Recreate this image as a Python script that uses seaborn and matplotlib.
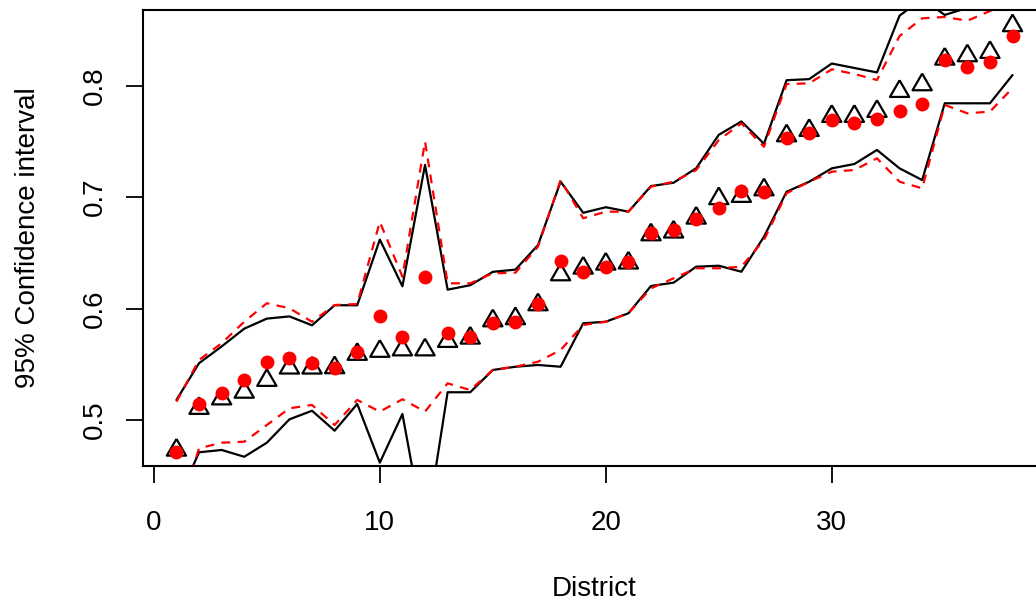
import numpy as np
import pandas as pd
import matplotlib
matplotlib.use("Agg")
import matplotlib.pyplot as plt
import seaborn as sns

# District index and the two point estimates
district = list(range(1, 39))
est_triangle = [0.473, 0.5105, 0.519, 0.525, 0.5356, 0.5467, 0.5467, 0.547, 0.559, 0.5617,
                0.563, 0.563, 0.5706, 0.5736, 0.5891, 0.591, 0.6035, 0.6304, 0.6364, 0.640,
                0.641, 0.6663, 0.6688, 0.6813, 0.6987, 0.7008, 0.7067, 0.7552, 0.760, 0.7726,
                0.7726, 0.7771, 0.795, 0.801, 0.824, 0.827, 0.830, 0.854]
est_dot = [0.4715, 0.514, 0.5245, 0.536, 0.5523, 0.5554, 0.5514, 0.5464, 0.5613, 0.5934,
           0.5748, 0.6286, 0.5778, 0.5742, 0.5873, 0.5883, 0.6041, 0.6427, 0.6331, 0.6376,
           0.6421, 0.6676, 0.6706, 0.6802, 0.690, 0.7058, 0.7044, 0.7528, 0.7573, 0.7693,
           0.7663, 0.7699, 0.7777, 0.7834, 0.8232, 0.8166, 0.8216, 0.845]

# 95% interval bounds (solid black and dashed red)
upper_black = [0.518, 0.551, 0.566, 0.582, 0.591, 0.593, 0.585, 0.603, 0.603, 0.662,
               0.620, 0.729, 0.617, 0.621, 0.633, 0.635, 0.657, 0.714, 0.686, 0.691,
               0.687, 0.710, 0.713, 0.726, 0.756, 0.768, 0.748, 0.805, 0.806, 0.820,
               0.816, 0.812, 0.863, 0.878, 0.8636, 0.870, 0.885, 0.895]
lower_black = [0.425, 0.471, 0.4731, 0.467, 0.4796, 0.5006, 0.5083, 0.4904, 0.5144, 0.4617,
               0.5054, 0.395, 0.5249, 0.5249, 0.5449, 0.5478, 0.5494, 0.5478, 0.5868, 0.5882,
               0.5958, 0.6203, 0.6233, 0.6376, 0.6385, 0.6331, 0.6645, 0.7049, 0.7139, 0.7259,
               0.7298, 0.7424, 0.7259, 0.7154, 0.7843, 0.7843, 0.7843, 0.8097]
upper_red = [0.5164, 0.5539, 0.5689, 0.5882, 0.6048, 0.6003, 0.5882, 0.6032, 0.6041, 0.678,
             0.6286, 0.750, 0.6227, 0.6227, 0.6317, 0.6322, 0.6556, 0.7154, 0.6811, 0.687,
             0.687, 0.7094, 0.7139, 0.7244, 0.7513, 0.7663, 0.7453, 0.8016, 0.8022, 0.8148,
             0.8106, 0.8052, 0.8447, 0.8606, 0.8618, 0.8584, 0.8671, 0.880]
lower_red = [0.411, 0.4746, 0.4796, 0.4805, 0.4955, 0.5105, 0.5135, 0.4955, 0.518, 0.5075,
             0.5186, 0.5075, 0.5329, 0.5269, 0.5449, 0.5478, 0.5523, 0.5628, 0.5853, 0.5882,
             0.5958, 0.6182, 0.6272, 0.6362, 0.6362, 0.6376, 0.6616, 0.7035, 0.7139, 0.7229,
             0.7244, 0.7349, 0.7139, 0.708, 0.7828, 0.7753, 0.7768, 0.798]

x_ticks = [0, 10, 20, 30]
y_ticks = [0.5, 0.6, 0.7, 0.8]

df = pd.DataFrame({
    "district": district,
    "tri": est_triangle,
    "dot": est_dot,
    "ub": upper_black,
    "lb": lower_black,
    "ur": upper_red,
    "lr": lower_red,
})

sns.set_theme(style="ticks")
plt.rcParams["font.family"] = ["Liberation Sans", "DejaVu Sans"]
plt.rcParams["axes.edgecolor"] = "black"
plt.rcParams["axes.linewidth"] = 1.5

FS = 20
fig = plt.figure(figsize=(10.36, 6.04), dpi=100)
ax = fig.add_axes([143 / 1036, 1 - 466 / 604, (1046 - 143) / 1036, (466 - 9.5) / 604])

# open triangle centred on its centroid
tri_marker = [(0.0, 1.0), (-0.866, -0.5), (0.866, -0.5), (0.0, 1.0)]

sns.scatterplot(data=df, x="district", y="tri", marker=tri_marker, s=16 ** 2,
                facecolor="none", edgecolor="black", linewidth=1.6, ax=ax, zorder=3)
sns.scatterplot(data=df, x="district", y="dot", marker="o", s=10 ** 2,
                color="#ff0000", linewidth=0, ax=ax, zorder=4)

for col in ["ub", "lb"]:
    sns.lineplot(data=df, x="district", y=col, color="black", linewidth=1.6,
                 ax=ax, zorder=2)
for col in ["ur", "lr"]:
    sns.lineplot(data=df, x="district", y=col, color="#ff0000", linewidth=1.6,
                 linestyle=(0, (4, 3.3)), ax=ax, zorder=2.5)

ax.set_xlim(-0.48, 39.48)
ax.set_ylim(0.4587, 0.8685)
ax.set_xticks(x_ticks)
ax.set_yticks(y_ticks)
ax.set_xticklabels([str(v) for v in x_ticks])
ax.set_yticklabels([f"{v:.1f}" for v in y_ticks])

for side in ["top", "right", "left", "bottom"]:
    ax.spines[side].set_visible(True)
    ax.spines[side].set_color("black")
    ax.spines[side].set_linewidth(1.5)

ax.tick_params(axis="both", direction="out", length=12.2, width=1.3, color="black",
               labelsize=FS, labelcolor="black")
ax.tick_params(axis="x", pad=19.5)
ax.tick_params(axis="y", pad=13)
for t in ax.get_yticklabels():
    t.set_rotation(90)
    t.set_va("center")
    t.set_ha("right")

ax.set_xlabel("District", fontsize=FS, color="black")
ax.set_ylabel("95% Confidence interval", fontsize=FS, color="black")
ax.xaxis.set_label_coords(0.5, -(576 - 466) / (466 - 9.5))
ax.yaxis.set_label_coords(-(143 - 41) / (1046 - 143), 0.5)
ax.grid(False)

fig.savefig("out.png", dpi=100)
